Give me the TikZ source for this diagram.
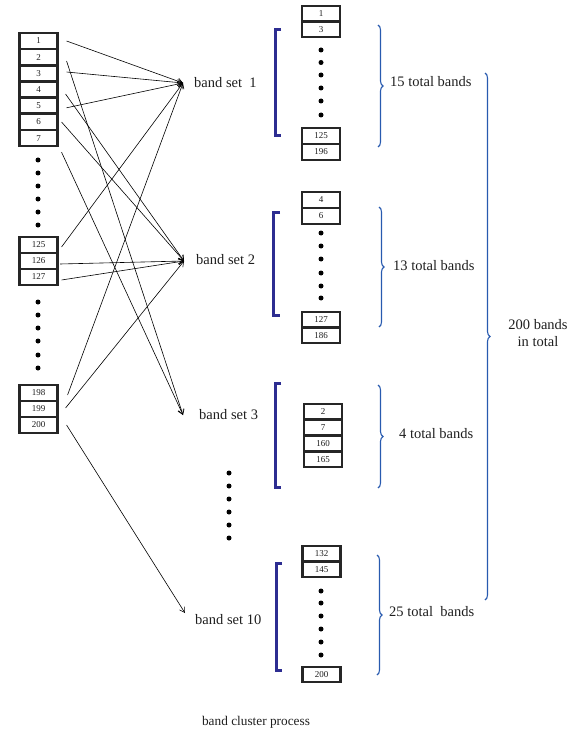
\documentclass[tikz,border=0pt]{standalone}
\usepackage{fontspec}
\setmainfont{Liberation Serif}
\usetikzlibrary{arrows.meta,decorations.pathreplacing}
\definecolor{bracketblue}{RGB}{45,45,145}
\definecolor{braceblue}{RGB}{40,90,175}
\definecolor{txt}{RGB}{30,30,30}
\begin{document}
\begin{tikzpicture}[x=1pt,y=1pt,
  bx/.style={draw=black!85,line width=2.1pt,minimum width=38pt,minimum height=15.5pt,inner sep=0pt,fill=white,font=\fontsize{9}{10}\selectfont,text=txt},
  dotc/.style={fill=black,circle,inner sep=0pt,minimum size=5pt},
  lbl/.style={anchor=west,inner sep=0pt,font=\fontsize{14.5}{16}\selectfont,text=txt},
  conn/.style={line width=0.6pt,-{Straight Barb[length=5pt,width=6pt]}},
  bracket/.style={draw=bracketblue,line width=3.4pt,line join=miter},
  bracebl/.style={draw=braceblue,line width=1.1pt,decorate,decoration={brace,amplitude=5pt}}
]
\useasboundingbox (0,0) rectangle (578,-730);

% left column boxes
\node[bx] (b1) at (38.5,-41) {1};
\node[bx] (b2) at (38.5,-57.2) {2};
\node[bx] (b3) at (38.5,-73.4) {3};
\node[bx] (b4) at (38.5,-89.6) {4};
\node[bx] (b5) at (38.5,-105.8) {5};
\node[bx] (b6) at (38.5,-122) {6};
\node[bx] (b7) at (38.5,-138.2) {7};
\foreach \i/\y in {1/160,2/173,3/186,4/199,5/212,6/225}
  \node[dotc] (ld\i) at (38,-\y) {};
\node[bx] (b125) at (38.5,-245) {125};
\node[bx] (b126) at (38.5,-261) {126};
\node[bx] (b127) at (38.5,-277) {127};
\foreach \i/\y in {1/302,2/315,3/328,4/341,5/355,6/368}
  \node[dotc] (md\i) at (38,-\y) {};
\node[bx] (b198) at (38.5,-393) {198};
\node[bx] (b199) at (38.5,-409) {199};
\node[bx] (b200) at (38.5,-425) {200};

% band set labels and arrow targets
\node[lbl] (bs1) at (194,-83) {band set\ \ 1};
\node[lbl] (bs2) at (196,-260) {band set 2};
\node[lbl] (bs3) at (199,-415) {band set 3};
\node[lbl] (bs10) at (195,-620) {band set 10};
\coordinate (t1) at (183,-83);
\coordinate (t2) at (184,-261);
\coordinate (t3) at (183,-415);
\coordinate (t10) at (185,-613);

% connectors
\draw[conn] ([shift={(8pt,0pt)}]b1.east) -- (t1);
\draw[conn] ([shift={(8pt,1.4pt)}]b3.east) -- (t1);
\draw[conn] ([shift={(8pt,-2pt)}]b5.east) -- (t1);
\draw[conn] ([shift={(3pt,-2pt)}]b125.east) -- (t1);
\draw[conn] ([shift={(9pt,-2pt)}]b198.east) -- (t1);
\draw[conn] ([shift={(8pt,-3.8pt)}]b2.east) -- (t3);
\draw[conn] ([shift={(3pt,-14pt)}]b7.east) -- (t3);
\draw[conn] ([shift={(7pt,-4.4pt)}]b4.east) -- (t2);
\draw[conn] ([shift={(3pt,0pt)}]b6.east) -- (t2);
\draw[conn] ([shift={(1.5pt,-3pt)}]b126.east) -- (t2);
\draw[conn] ([shift={(3pt,-3pt)}]b127.east) -- (t2);
\draw[conn] ([shift={(7pt,1pt)}]b199.east) -- (t2);
\draw[conn] ([shift={(8pt,0pt)}]b200.east) -- (t10);

% middle dots
\foreach \i/\y in {1/473,2/486,3/499,4/512,5/525,6/538}
  \node[dotc] (cd\i) at (229,-\y) {};

% brackets
\draw[bracket] (281,-29.5) -- (275.5,-29.5) -- (275.5,-135.5) -- (281,-135.5);
\draw[bracket] (280,-212.5) -- (273.5,-212.5) -- (273.5,-315.5) -- (280,-315.5);
\draw[bracket] (281,-383.5) -- (275.5,-383.5) -- (275.5,-487.5) -- (281,-487.5);
\draw[bracket] (282,-563.5) -- (276.5,-563.5) -- (276.5,-670.5) -- (282,-670.5);

% right groups
\node[bx] (g1a) at (321,-13.5) {1};
\node[bx] (g1b) at (321,-29.5) {3};
\foreach \i/\y in {1/50,2/62.5,3/75,4/88,5/101,6/115}
  \node[dotc] (g1d\i) at (321,-\y) {};
\node[bx] (g1c) at (321,-136) {125};
\node[bx] (g1e) at (321,-152) {196};

\node[bx] (g2a) at (321,-200) {4};
\node[bx] (g2b) at (321,-216) {6};
\foreach \i/\y in {1/233,2/246,3/259,4/273,5/286,6/298}
  \node[dotc] (g2d\i) at (321,-\y) {};
\node[bx] (g2c) at (321,-319.5) {127};
\node[bx] (g2e) at (321,-335.5) {186};

\node[bx] (g3a) at (323,-411.5) {2};
\node[bx] (g3b) at (323,-427.5) {7};
\node[bx] (g3c) at (323,-443.5) {160};
\node[bx] (g3e) at (323,-459.5) {165};

\node[bx] (g4a) at (321.5,-553.5) {132};
\node[bx] (g4b) at (321.5,-569.5) {145};
\foreach \i/\y in {1/591,2/603,3/616,4/629,5/642,6/655}
  \node[dotc] (g4d\i) at (321,-\y) {};
\node[bx] (g4c) at (321.5,-674.5) {200};

% braces
\draw[bracebl] (378,-25) -- (378,-147);
\draw[bracebl] (379,-207) -- (379,-327);
\draw[bracebl] (378,-385) -- (378,-488);
\draw[bracebl] (377,-555) -- (377,-675);
\draw[bracebl] (485,-73) -- (485,-600);

\node[lbl] (c1) at (390,-82) {15 total bands};
\node[lbl] (c2) at (393,-266) {13 total bands};
\node[lbl] (c3) at (399,-434) {4 total bands};
\node[lbl] (c4) at (389,-612) {25 total\ \ bands};
\node[font=\fontsize{14.5}{17}\selectfont,text=txt,align=center,inner sep=0pt] (tot) at (538,-333) {200 bands\\in total};

\node[font=\fontsize{13.3}{15}\selectfont,text=txt,inner sep=0pt] (cap) at (256,-722) {band cluster process};
\end{tikzpicture}
\end{document}
